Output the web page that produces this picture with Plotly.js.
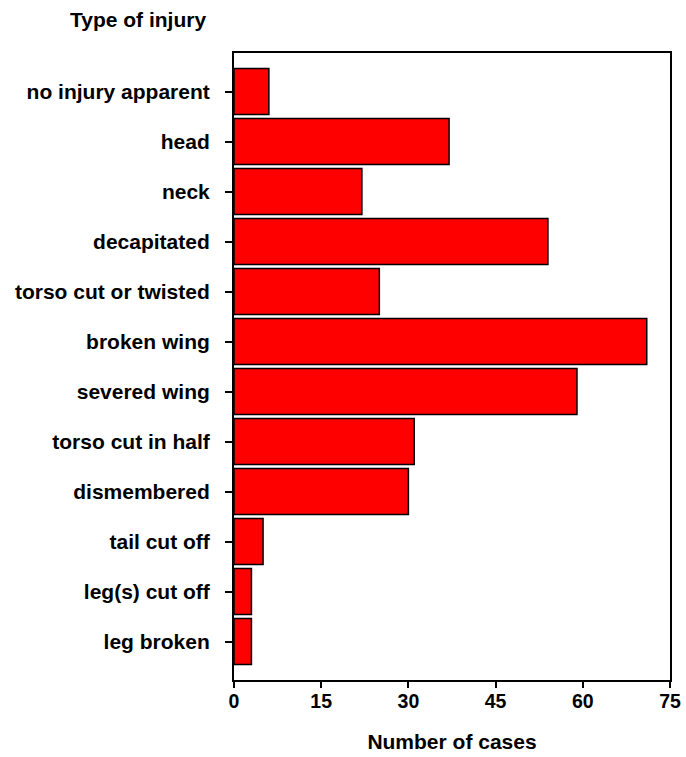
<!DOCTYPE html>
<html>
<head>
<meta charset="utf-8">
<script src="https://cdn.plot.ly/plotly-3.0.1.min.js"></script>
<style>html,body{margin:0;padding:0;background:#fff;}#chart{width:686px;height:757px;}</style>
</head>
<body>
<div id="chart"></div>
<script>
const categories = ["no injury apparent", "head", "neck", "decapitated", "torso cut or twisted",
  "broken wing", "severed wing", "torso cut in half", "dismembered", "tail cut off",
  "leg(s) cut off", "leg broken"];
const cases = [6, 37, 22, 54, 25, 71, 59, 31, 30, 5, 3, 3];
const xTicks = [0, 15, 30, 45, 60, 75];

const FONT = {family: "Liberation Sans, Arial, sans-serif", size: 21, color: "#000", weight: "bold"};
const TICKFONT = {family: "Liberation Sans, Arial, sans-serif", size: 19.5, color: "#000", weight: "bold"};

Plotly.newPlot("chart", [{
  type: "bar",
  orientation: "h",
  y: categories,
  x: cases,
  marker: {color: "#ff0000", line: {color: "#000", width: 1.5}},
  hoverinfo: "none"
}], {
  width: 686, height: 757,
  margin: {l: 234, r: 16, t: 53, b: 77},
  paper_bgcolor: "#fff", plot_bgcolor: "#fff",
  bargap: 0.08,
  showlegend: false,
  font: FONT,
  title: {text: "Type of injury", font: FONT, x: 138/686, xref: "container", xanchor: "center",
          y: 1 - 20/757, yref: "container", yanchor: "middle"},
  xaxis: {
    range: [0, 75], tickvals: xTicks, ticktext: xTicks.map(String),
    showgrid: false, zeroline: false,
    showline: true, linecolor: "#000", linewidth: 2, mirror: true,
    ticks: "outside", ticklen: 6, tickwidth: 2, tickcolor: "#000",
    ticklabelstandoff: -3,
    tickfont: TICKFONT,
    title: {text: "Number of cases", font: FONT, standoff: 23}
  },
  yaxis: {
    type: "category", categoryorder: "array", categoryarray: categories,
    range: [11.77, -0.77],
    showgrid: false, zeroline: false,
    showline: true, linecolor: "#000", linewidth: 2, mirror: true,
    ticks: "outside", ticklen: 7, tickwidth: 2, tickcolor: "#000",
    ticklabelstandoff: 11,
    tickfont: FONT
  }
}, {displayModeBar: false, staticPlot: true});
</script>
</body>
</html>
